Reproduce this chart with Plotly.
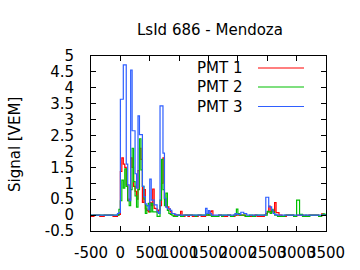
import plotly.graph_objects as go

# bin start times (ns), 25 ns FADC bins
time_ns = list(range(-500, 3501, 25))

pmt1 = [
    -0.04, -0.04, 0, 0, 0, 0, -0.04, -0.04, -0.04, 0,
    0, 0, 0, 0, 0, -0.04, -0.04, -0.04, 0, 0.02,
    1.37, 1.8, 1.6, 1.5, 0.95, 0.45, 0.5, 1.8, 1.5, 0.9,
    0.75, 0.5, 1.4, 2.1, 1.75, 0.4, 0.8, 0.2, 0.15, 0.1,
    0.4, 0.3, 0.82, 0.21, 0.2, 0.1, 0.16, 0.3, 1.0, 1.8,
    0.5, 0.26, 0.26, 0.19, 0.1, 0.05, 0.05, -0.04, 0, 0,
    0, 0.12, -0.04, -0.04, 0, 0, -0.04, 0, 0, -0.04,
    -0.04, -0.04, -0.04, 0, 0, -0.04, -0.04, -0.04, 0, 0,
    0, 0.1, 0.13, -0.04, -0.04, -0.04, -0.04, 0, 0, -0.04,
    -0.04, -0.04, -0.04, 0, 0, -0.04, -0.04, -0.04, 0, 0,
    0, 0, 0, 0, 0, -0.04, -0.04, -0.04, -0.04, -0.04,
    -0.04, 0, 0, -0.04, -0.04, -0.04, -0.04, -0.04, 0, 0.05,
    0.1, 0.28, 0.1, 0.14, 0.1, 0.39, 0.08, 0.08, 0, 0,
    -0.04, -0.04, -0.04, 0, 0, 0, 0, 0, -0.04, -0.04,
    0, 0, 0, 0, 0, -0.04, -0.04, -0.04, 0, 0,
    0, 0, 0, 0, 0, -0.04, -0.04, 0.04, 0, 0,
    0,
]

pmt2 = [
    0, 0, 0, 0, 0, 0, 0, 0, 0, 0,
    0, 0, 0, 0, 0, 0, 0, 0, 0, 0.18,
    0.45, 1.1, 0.85, 1.45, 0.9, 0.45, 0.3, 0.8, 2.1, 1.05,
    0.6, 0.25, 0.8, 2.4, 1.42, 0.9, 0.5, 0.05, 0.3, 0.37,
    0.1, 0.37, 0.1, 0.1, 0.1, -0.04, -0.04, 0.47, 1.75, 0.8,
    0.3, 0.69, 0.15, 0.05, 0.02, 0, -0.04, -0.04, -0.04, 0,
    0, -0.04, -0.04, 0, 0, 0, 0, 0, 0, 0,
    0, -0.04, 0, 0, 0, 0, 0, 0, 0, 0.05,
    0, 0, -0.04, -0.04, -0.04, -0.04, -0.04, 0, 0, -0.04,
    0, 0, 0, 0, 0, -0.04, -0.04, 0, 0, 0.19,
    0.05, 0, 0, 0, 0, -0.04, -0.04, -0.04, 0, 0,
    -0.04, -0.04, 0, 0, 0, 0, 0, 0, 0, 0,
    0.12, 0.1, 0.05, 0.18, 0.1, 0, 0, -0.04, -0.04, -0.04,
    -0.04, -0.04, 0, 0, 0, 0, 0, 0, -0.04, -0.04,
    0.47, 0.47, 0.02, 0.02, -0.04, -0.04, 0, -0.04, -0.04, 0,
    0, 0, 0, 0, 0, -0.04, -0.04, 0, 0.04, 0.02,
    0,
]

pmt3 = [
    0, 0, 0, 0, 0, 0, 0, 0, 0, 0,
    0, 0, 0, 0, 0, 0, 0, 0, 0.05, 0.08,
    3.64, 3.64, 4.72, 4.72, 1.6, 0.95, 0.45, 4.56, 2.65, 2.65,
    1.3, 0.85, 3.12, 2.53, 2.53, 0.9, 0.58, 0.35, 0.3, 0.16,
    1.13, 0.47, 0.47, 0.32, 0.32, 0.1, 0.05, 3.43, 3.43, 1.95,
    0.53, 0.25, 0.2, 0.2, 0.15, 0.05, 0.05, 0.02, 0, 0,
    0, 0, 0, 0, 0, 0, 0, 0, 0, 0,
    0, 0, 0, 0, 0, 0, 0, 0, 0.21, 0.05,
    0.14, 0.05, 0, 0, 0, 0, 0, 0, 0, 0,
    0, 0, 0, 0, 0, 0, 0, 0, 0.05, 0.03,
    0.02, 0.02, 0.09, 0.09, 0.05, 0.05, 0, 0, 0, 0,
    0, 0, 0, 0, 0, 0, 0, 0, 0, 0.56,
    0.56, 0.26, 0.26, 0.16, 0.05, 0.02, 0, 0, 0, 0,
    0, 0, 0, 0, 0, 0, 0, 0, 0, 0,
    0, 0, 0, 0, 0, 0, 0, 0, 0, 0,
    0, 0, 0, 0, 0, 0, 0, 0, 0, 0,
    0,
]

series_names = ["PMT 1", "PMT 2", "PMT 3"]
series_colors = ["#ff0000", "#00c000", "#2f5fff"]

x_tick_vals = [-500, 0, 500, 1000, 1500, 2000, 2500, 3000, 3500]
x_tick_text = ["-500", "0", "500", "1000", "1500", "2000", "2500", "3000", "3500"]
y_tick_vals = [-0.5, 0, 0.5, 1, 1.5, 2, 2.5, 3, 3.5, 4, 4.5, 5]
y_tick_text = ["-0.5", "0", "0.5", "1", "1.5", "2", "2.5", "3", "3.5", "4", "4.5", "5"]

title_text = "LsId 686 - Mendoza"
y_title = "Signal [VEM]"

FONT = "DejaVu Sans"
W, H = 360, 270
L, R, T, B = 91, 34, 56, 39
pw, ph = W - L - R, H - T - B

def px_x(p):
    return (p - L) / pw

def px_y(p):
    return (H - B - p) / ph

fig = go.Figure()
for name, vals, col in zip(series_names, [pmt1, pmt2, pmt3], series_colors):
    fig.add_trace(go.Scatter(x=time_ns, y=vals, mode="lines", name=name,
                             line=dict(color=col, width=1.2, shape="hv"),
                             showlegend=False))

axis_common = dict(showline=True, linecolor="black", linewidth=1, mirror="allticks",
                   ticks="inside", ticklen=5, tickcolor="black", tickwidth=1,
                   showgrid=False, zeroline=False, automargin=False, tickangle=0,
                   tickfont=dict(family=FONT, size=15, color="black"))

fig.update_xaxes(range=[-500, 3500], tickvals=x_tick_vals, ticktext=x_tick_text,
                 ticklabelstandoff=8, **axis_common)
fig.update_yaxes(range=[-0.5, 5], tickvals=y_tick_vals, ticktext=y_tick_text,
                 ticklabelstandoff=13, **axis_common)

annotations = [
    dict(text=title_text, xref="paper", yref="paper", x=px_x(210), y=px_y(30),
         xanchor="center", yanchor="middle", showarrow=False,
         font=dict(family=FONT, size=15, color="black")),
    dict(text=y_title, xref="paper", yref="paper", x=px_x(15), y=px_y(145),
         xanchor="center", yanchor="middle", showarrow=False, textangle=-90,
         font=dict(family=FONT, size=15, color="black")),
]
shapes = []
legend_rows = [68, 87, 106.5]
for name, col, ry in zip(series_names, series_colors, legend_rows):
    annotations.append(dict(text=name, xref="paper", yref="paper", x=px_x(244), y=px_y(ry),
                            xanchor="right", yanchor="middle", showarrow=False,
                            font=dict(family=FONT, size=15, color="black")))
    shapes.append(dict(type="line", xref="paper", yref="paper",
                       x0=px_x(258), x1=px_x(304), y0=px_y(ry), y1=px_y(ry),
                       line=dict(color=col, width=1.2)))

fig.update_layout(width=W, height=H, margin=dict(l=L, r=R, t=T, b=B),
                  paper_bgcolor="white", plot_bgcolor="white",
                  annotations=annotations, shapes=shapes,
                  font=dict(family=FONT, size=15, color="black"))

fig.write_html("out.html")
